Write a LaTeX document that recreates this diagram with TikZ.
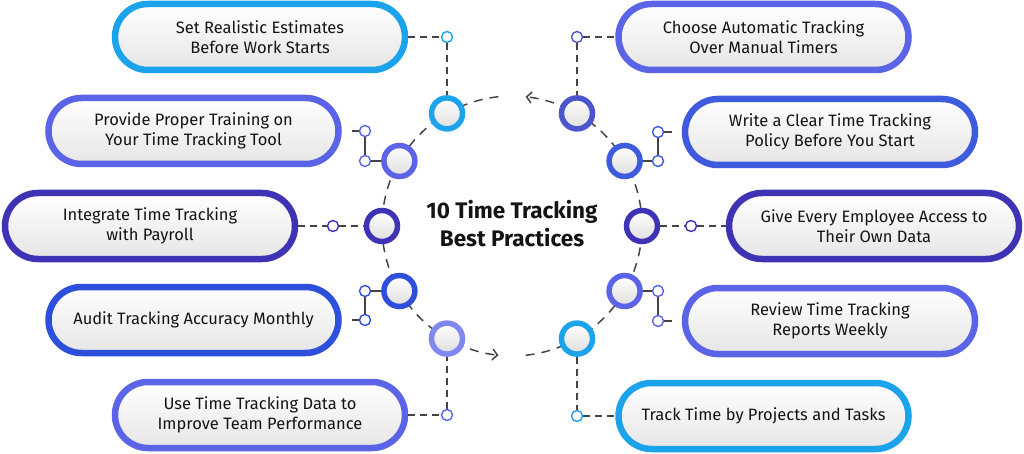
\documentclass[tikz,border=0pt]{standalone}
\usepackage{fontspec}
\setmainfont{Fira Sans}
\usetikzlibrary{arrows.meta}
\definecolor{cyanb}{HTML}{1BA3EC}
\definecolor{indm}{HTML}{5B64E6}
\definecolor{indd}{HTML}{3F33B5}
\definecolor{royal}{HTML}{2E4FDB}
\definecolor{royl}{HTML}{3E5BDD}
\definecolor{indl}{HTML}{8088F0}
\definecolor{indc}{HTML}{4C55CC}
\definecolor{lnk}{HTML}{444444}
\definecolor{txt}{HTML}{141414}
\tikzset{
 pillbox/.style={draw=#1, line width=6.5pt, rounded corners=33pt, minimum width=290pt,
   minimum height=66pt, inner sep=0pt, align=center, top color=white, bottom color=black!10,
   font=\fontsize{16.5}{20}\selectfont, text=txt},
 hub/.style={circle, draw=#1, line width=5.5pt, minimum size=31pt, inner sep=0pt,
   top color=white, bottom color=black!13},
 smalldot/.style={circle, draw=#1, line width=1.4pt, fill=white, minimum size=11pt, inner sep=0pt},
 dline/.style={draw=lnk, line width=1.5pt, dash pattern=on 7pt off 5pt},
 sline/.style={draw=lnk, line width=1.5pt},
 ringline/.style={draw=lnk, line width=1.5pt, dash pattern=on 9pt off 7pt,
   -{Straight Barb[length=5pt,width=11pt]}}
}
\begin{document}
\begin{tikzpicture}[x=1pt,y=-1pt]
\useasboundingbox (0,0) rectangle (1024,454);
% ring arcs
\draw[ringline] plot[domain=276:444, samples=80] ({512+130*cos(\x)}, {226-130*sin(\x)});
\draw[ringline] plot[domain=96:264, samples=80] ({512+130*cos(\x)}, {226-130*sin(\x)});
% boxes
\node[pillbox=cyanb] (b1) at (260,37) {Set Realistic Estimates\\Before Work Starts};
\node[pillbox=indm] (b2) at (193.5,131) {Provide Proper Training on\\Your Time Tracking Tool};
\node[pillbox=indd] (b3) at (150,226) {Integrate Time Tracking\\with Payroll};
\node[pillbox=royal] (b4) at (193.5,320) {Audit Tracking Accuracy Monthly};
\node[pillbox=indm] (b5) at (260,415) {Use Time Tracking Data to\\Improve Team Performance};
\node[pillbox=indm] (b6) at (763.5,37) {Choose Automatic Tracking\\Over Manual Timers};
\node[pillbox=royl] (b7) at (830,132) {Write a Clear Time Tracking\\Policy Before You Start};
\node[pillbox=indd] (b8) at (874,226) {Give Every Employee Access to\\Their Own Data};
\node[pillbox=indm] (b9) at (830,321) {Review Time Tracking\\Reports Weekly};
\node[pillbox=cyanb] (b10) at (763.5,416) {Track Time by Projects and Tasks};
% hubs
\node[hub=cyanb] (c1) at (447,113.4) {};
\node[hub=indm] (c2) at (399.4,161) {};
\node[hub=indd] (c3) at (382,226) {};
\node[hub=royal] (c4) at (399.4,291) {};
\node[hub=indl] (c5) at (447,338.6) {};
\node[hub=indc] (c6) at (577,113.4) {};
\node[hub=royl] (c7) at (624.6,161) {};
\node[hub=indd] (c8) at (642,226) {};
\node[hub=indm] (c9) at (624.6,291) {};
\node[hub=cyanb] (c10) at (577,338.6) {};
% small dots
\node[smalldot=cyanb] (d1) at (447,37) {};
\node[smalldot=indm] (d2a) at (365,131) {};
\node[smalldot=indm] (d2b) at (365,161) {};
\node[smalldot=indd] (d3) at (333,226) {};
\node[smalldot=royal] (d4a) at (365,291) {};
\node[smalldot=royal] (d4b) at (365,320) {};
\node[smalldot=indm] (d5) at (447,415) {};
\node[smalldot=indc] (d6) at (577,37) {};
\node[smalldot=royl] (d7a) at (658,132) {};
\node[smalldot=royl] (d7b) at (658,161) {};
\node[smalldot=indd] (d8) at (691,226) {};
\node[smalldot=indm] (d9a) at (658,291) {};
\node[smalldot=indm] (d9b) at (658,321) {};
\node[smalldot=cyanb] (d10) at (577,416) {};
% connectors left
\draw[dline] (b1.east) -- (d1);
\draw[dline] (d1) -- (c1);
\draw[sline, shorten <=10pt] (b2.east) -- (d2a);
\draw[sline] (d2a) -- (d2b);
\draw[sline] (d2b) -- (c2);
\draw[dline] (b3.east) -- (d3);
\draw[dline] (d3) -- (c3);
\draw[sline] (d4a) -- (c4);
\draw[sline] (d4a) -- (d4b);
\draw[sline, shorten <=10pt] (b4.east) -- (d4b);
\draw[dline] (b5.east) -- (d5);
\draw[dline] (d5) -- (c5);
% connectors right
\draw[dline] (d6) -- (b6.west);
\draw[dline] (d6) -- (c6);
\draw[sline, shorten <=10pt] (b7.west) -- (d7a);
\draw[sline] (d7a) -- (d7b);
\draw[sline] (d7b) -- (c7);
\draw[dline] (c8) -- (d8);
\draw[dline] (d8) -- (b8.west);
\draw[sline] (d9a) -- (c9);
\draw[sline] (d9a) -- (d9b);
\draw[sline, shorten <=10pt] (b9.west) -- (d9b);
\draw[dline] (c10) -- (d10);
\draw[dline] (d10) -- (b10.west);
% title
\node[font=\fontsize{22.5}{28}\selectfont\bfseries, align=center, text=txt] (title) at (512,224) {10 Time Tracking\\Best Practices};
\end{tikzpicture}
\end{document}
